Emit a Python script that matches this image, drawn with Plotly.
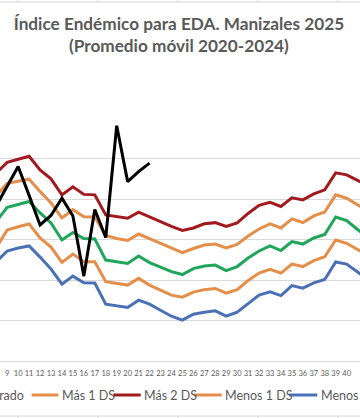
import plotly.graph_objects as go

weeks = list(range(8, 43))
week_labels = [str(w) for w in range(1, 53)]

mas2 = [232.3, 245.3, 249.0, 252.7, 236.0, 224.9, 205.1, 215.0, 205.7, 205.1, 180.3, 178.5, 176.2, 183.7, 177.8,
        171.0, 166.1, 161.1, 164.2, 169.4, 170.8, 166.1, 170.4, 182.2, 192.1, 196.0, 190.8, 201.4, 198.9, 206.3,
        211.3, 232.3, 229.8, 223.0, 216.2]
mas1 = [203.8, 219.3, 221.8, 224.5, 209.4, 195.2, 176.6, 186.8, 178.2, 177.8, 155.0, 151.2, 148.8, 156.8, 151.2,
        145.7, 139.5, 133.9, 138.9, 143.2, 144.4, 139.5, 143.8, 154.3, 163.0, 169.2, 164.2, 175.4, 171.0, 179.1,
        184.0, 205.1, 201.0, 192.7, 184.7]
esperado = [172.3, 189.6, 193.3, 197.0, 182.8, 170.4, 149.4, 158.7, 151.2, 150.6, 124.6, 122.5, 120.5, 129.6, 121.5,
            116.0, 110.4, 106.7, 114.1, 117.2, 118.4, 111.6, 116.6, 127.1, 135.8, 142.0, 136.4, 147.5, 144.4, 151.9,
            156.2, 177.8, 173.3, 162.4, 151.9]
menos1 = [139.7, 161.8, 165.8, 169.2, 151.9, 140.7, 121.8, 132.1, 122.5, 122.5, 98.0, 95.5, 93.7, 102.0, 93.7,
          87.5, 81.3, 78.8, 85.0, 88.1, 89.6, 83.8, 88.1, 99.3, 108.5, 113.1, 108.5, 119.7, 116.6, 124.0,
          128.7, 149.4, 145.3, 137.6, 130.2]
menos2 = [122.6, 135.8, 139.5, 142.0, 128.3, 113.5, 94.9, 104.8, 96.5, 96.2, 70.2, 68.3, 66.1, 75.1, 70.2,
          62.7, 55.3, 50.4, 57.8, 60.3, 61.9, 55.3, 60.3, 70.8, 81.3, 85.4, 80.7, 93.1, 90.0, 96.5,
          100.7, 122.2, 119.7, 109.8, 99.9]
obs_weeks = list(range(8, 23))
observado = [191.5, 216.7, 240.1, 204.5, 168.0, 179.7, 201.0, 179.0, 104.8, 187.1, 152.5, 290.5, 221.5, 233.9, 244.3]

legend_names = ["Esperado", "Más 1 DS", "Más 2 DS", "Menos 1 DS", "Menos 2 DS"]

C_RED = "#A31A1E"
C_ORANGE = "#E48E4A"
C_GREEN = "#1FA65A"
C_BLUE = "#4A70B6"
C_TEXT = "#595959"
C_GRID = "#D9D9D9"

W, H = 360, 418
T, B = 118, 57
PH = H - T - B

fig = go.Figure()
series = [
    (menos2, C_BLUE, "Menos 2 DS"),
    (menos1, C_ORANGE, "Menos 1 DS"),
    (esperado, C_GREEN, "Esperado"),
    (mas1, C_ORANGE, "Más 1 DS"),
    (mas2, C_RED, "Más 2 DS"),
]
for vals, col, name in series:
    fig.add_trace(go.Scatter(x=weeks, y=vals, mode="lines", name=name,
                             line=dict(color=col, width=3), showlegend=False))
fig.add_trace(go.Scatter(x=obs_weeks, y=observado, mode="lines", name="Casos 2025",
                         line=dict(color="#000000", width=3), showlegend=False))


def px_x(p):
    return p / W


def px_y(p):
    return (H - B - p) / PH


shapes = []
annotations = []
# spreadsheet cell borders (top and bottom)
for yy, y0, y1 in [(2, 0, 2), (416, 416, 418)]:
    shapes.append(dict(type="line", xref="paper", yref="paper", x0=0, x1=1, y0=px_y(yy), y1=px_y(yy),
                       line=dict(color="#D4D4D4", width=1)))
    for xx in [18, 98, 178, 258, 338]:
        shapes.append(dict(type="line", xref="paper", yref="paper", x0=px_x(xx), x1=px_x(xx),
                           y0=px_y(y0), y1=px_y(y1), line=dict(color="#D4D4D4", width=1)))

# legend (manual, partially cropped as in the reference)
leg_y = 395
annotations.append(dict(text=legend_names[0], xref="paper", yref="paper", x=px_x(25.5), y=px_y(leg_y),
                        xanchor="right", yanchor="middle", showarrow=False,
                        font=dict(family="Lato", size=12.5, color=C_TEXT)))
leg_items = [(31.7, 58.3, C_ORANGE, legend_names[1]),
             (113.3, 140.7, C_RED, legend_names[2]),
             (194, 221.7, C_ORANGE, legend_names[3]),
             (289.3, 317.3, C_BLUE, legend_names[4])]
for x0, x1, col, name in leg_items:
    shapes.append(dict(type="line", xref="paper", yref="paper", x0=px_x(x0), x1=px_x(x1),
                       y0=px_y(leg_y), y1=px_y(leg_y), line=dict(color=col, width=3)))
    annotations.append(dict(text=name, xref="paper", yref="paper", x=px_x(x1 + 1.5), y=px_y(leg_y),
                            xanchor="left", yanchor="middle", showarrow=False,
                            font=dict(family="Lato", size=12.5, color=C_TEXT)))

fig.update_layout(
    width=W, height=H,
    margin=dict(l=0, r=0, t=T, b=B, pad=0, autoexpand=False),
    paper_bgcolor="white", plot_bgcolor="white",
    title=dict(text="<b>Índice Endémico para EDA. Manizales 2025</b><br><b>(Promedio móvil 2020-2024)</b>",
               x=0.497, xanchor="center", y=1 - 29.5 / H, yanchor="middle", yref="container",
               font=dict(family="Lato", size=17.2, color=C_TEXT)),
    shapes=shapes, annotations=annotations,
    showlegend=False,
)
fig.update_xaxes(range=[8.3425, 41.219], tickmode="array", tickvals=list(range(1, 53)), ticktext=week_labels,
                 tickangle=0, showgrid=False, showline=True, linecolor=C_GRID, linewidth=1, ticks="",
                 ticklabelstandoff=5,
                 tickfont=dict(family="Lato", size=7.5, color=C_TEXT), zeroline=False)
fig.update_yaxes(range=[0, 300], dtick=50, showgrid=True, gridcolor=C_GRID, gridwidth=1,
                 showticklabels=False, zeroline=False, ticks="")

fig.write_html("out.html", config={"displayModeBar": False},
               post_script="document.body.style.margin='0px';document.body.style.overflow='hidden';")
